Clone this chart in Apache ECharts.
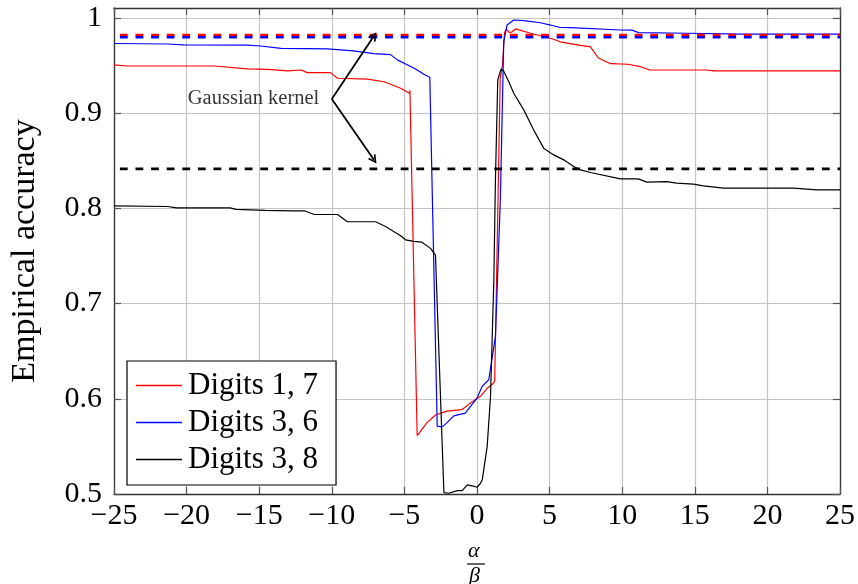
<!DOCTYPE html>
<html>
<head>
<meta charset="utf-8">
<script src="https://cdn.jsdelivr.net/npm/echarts@6/dist/echarts.min.js"></script>
<style>
  html, body { margin: 0; padding: 0; background: #fff; }
  #chart { width: 858px; height: 584px; }
</style>
</head>
<body>
<div id="chart"></div>
<script>
// Accuracy curves versus alpha/beta
const seriesNames = ['Digits 1, 7', 'Digits 3, 6', 'Digits 3, 8'];

const r17X = [-25, -24.1, -18.1, -15.8, -14.4, -13.05, -12.1, -11.7, -10.1, -9.6, -7.55, -6.4, -5.3, -4.65, -4.62, -4.12,
  -3.44, -2.86, -2.06, -1.02, -0.45, 0.24, 0.70, 1.16, 1.22, 1.6, 1.75, 1.9, 2.03, 2.25, 2.42, 2.65, 3.68, 5.06, 5.74,
  7.1, 7.8, 8.36, 9.2, 10.4, 11.24, 11.9, 15.8, 16.27, 25];
const r17Y = [0.9507, 0.9496, 0.9496, 0.9465, 0.946, 0.9444, 0.9454, 0.9426, 0.9426, 0.9367, 0.9357, 0.933, 0.9265, 0.921, 0.924, 0.5614,
  0.575, 0.583, 0.587, 0.5887, 0.5957, 0.6026, 0.611, 0.6165, 0.62, 0.937, 0.95, 0.985, 0.988, 0.9845, 0.9856, 0.9885, 0.984, 0.9787, 0.975,
  0.9712, 0.970, 0.958, 0.952, 0.9514, 0.949, 0.9454, 0.9454, 0.9444, 0.9444];

const b36X = [-25, -21.3, -20.2, -15.8, -14.9, -13.5, -10.3, -8.5, -7.1, -5.95, -5.49, -4.57, -4.23, -3.66, -3.25, -3.2, -2.74,
  -2.40, -2.06, -1.60, -0.81, 0.0, 0.35, 0.81, 1.27, 1.61, 1.84, 2.07, 2.53, 3.22, 4.37, 5.06, 5.74, 6.43, 9.88, 10.67, 11.13,
  14.45, 18.35, 25];
const b36Y = [0.9732, 0.9727, 0.9717, 0.9715, 0.9706, 0.968, 0.9675, 0.9655, 0.9625, 0.9615, 0.956, 0.949, 0.9465, 0.941, 0.9378, 0.9375, 0.5712,
  0.5705, 0.575, 0.582, 0.585, 0.6007, 0.613, 0.620, 0.6656, 0.81, 0.975, 0.9926, 0.9979, 0.9972, 0.995, 0.9926, 0.990, 0.9898, 0.9874, 0.9872, 0.9846,
  0.984, 0.983, 0.983];

const b38X = [-25, -21.3, -20.7, -17.0, -16.6, -14.6, -12.6, -11.9, -11.2, -9.6, -8.93, -6.98, -6.3, -5.26, -4.92, -4.35, -3.8, -3.2, -2.86,
  -2.28, -1.94, -1.36, -1.02, -0.67, -0.33, 0.01, 0.24, 0.36, 0.70, 0.93, 1.16, 1.27, 1.43, 1.66, 1.84, 2.19, 2.53, 3.22, 3.9,
  4.59, 5.28, 5.97, 6.66, 7.12, 7.81, 9.88, 11.1, 11.7, 13.07, 13.76, 14.9, 15.59, 16.97, 21.8, 23.4, 25];
const b38Y = [0.8027, 0.802, 0.8006, 0.8006, 0.799, 0.798, 0.7975, 0.7975, 0.7936, 0.7936, 0.786, 0.786, 0.781, 0.7712, 0.767, 0.7653, 0.7645, 0.758, 0.751,
  0.5015, 0.5008, 0.5036, 0.5036, 0.5096, 0.5085, 0.5071, 0.5113, 0.5148, 0.5498, 0.6023, 0.725, 0.83, 0.935, 0.9465, 0.944, 0.933, 0.921, 0.9035, 0.8825,
  0.8633, 0.8562, 0.851, 0.844, 0.8405, 0.8377, 0.831, 0.831, 0.8276, 0.8282, 0.8265, 0.8255, 0.8237, 0.8213, 0.8213, 0.8195, 0.8195];

// Gaussian-kernel reference accuracies (horizontal dashed levels)
const kernelLevels = [0.9822, 0.9797, 0.8415];
const kernelColors = ['#ff0000', '#0000ff', '#000000'];

// Annotation: label anchor and arrow tips
const noteAnchor = [-10, 0.915];
const noteTips = [[-7.1, 0.981], [-7.1, 0.851]];
const noteText = 'Gaussian kernel';

const xTicks = { min: -25, max: 25, step: 5 };
const yTicks = { min: 0.5, max: 1.0105, step: 0.1 };

const FONT = 'Liberation Serif';
const zip = (xs, ys) => xs.map((x, i) => [x, ys[i]]);

const axisLineStyle = { color: '#333', width: 1.3 };
const tickStyle = { color: '#555', width: 1.2 };
const minus = v => String(v).replace('-', '\u2212');

const chart = echarts.init(document.getElementById('chart'), null, { renderer: 'canvas' });

const curve = (name, xs, ys, color) => ({
  name, type: 'line', data: zip(xs, ys), symbol: 'none', smooth: false,
  lineStyle: { color, width: 1.2 }, itemStyle: { color }, z: 3, animation: false
});

const level = (v, color) => ({
  type: 'line', data: [[xTicks.min, v], [xTicks.max, v]], symbol: 'none', silent: true,
  lineStyle: { color, width: 2.6, type: [7.8, 7.8], dashOffset: 9.7 }, z: 4, animation: false
});

const chevron = 'path://M0,9 L5,0 L10,9 L8.3,9.9 L5,3.6 L1.7,9.9 Z';

chart.setOption({
  animation: false,
  grid: { left: 113, right: 18, top: 8, bottom: 90 },
  legend: {
    data: seriesNames.map(n => ({ name: n, icon: 'rect' })),
    orient: 'vertical',
    left: 127, top: 361,
    padding: [9, 18, 10, 9],
    itemWidth: 46, itemHeight: 1.3, itemGap: 6,
    backgroundColor: '#fff',
    borderColor: '#000', borderWidth: 1.2,
    textStyle: { fontFamily: FONT, fontSize: 31, color: '#000', lineHeight: 31, padding: [0, 0, 0, 1] }
  },
  xAxis: [{
    type: 'value', position: 'bottom', min: xTicks.min, max: xTicks.max, interval: xTicks.step,
    axisLine: { show: true, onZero: false, lineStyle: axisLineStyle },
    axisTick: { show: true, inside: true, length: 7, lineStyle: tickStyle },
    axisLabel: { fontFamily: FONT, fontSize: 30, color: '#000', margin: 7, formatter: minus },
    splitLine: { show: true, lineStyle: { color: '#c4c4c4', width: 1.2 } }
  }, {
    type: 'value', position: 'top', min: xTicks.min, max: xTicks.max, interval: xTicks.step,
    axisLine: { show: true, onZero: false, lineStyle: axisLineStyle },
    axisTick: { show: true, inside: true, length: 7, lineStyle: tickStyle },
    axisLabel: { show: false }, splitLine: { show: false }
  }],
  yAxis: [{
    type: 'value', position: 'left', min: yTicks.min, max: yTicks.max, interval: yTicks.step,
    name: 'Empirical accuracy', nameLocation: 'middle', nameGap: 72,
    nameTextStyle: { fontFamily: FONT, fontSize: 34, color: '#000' },
    axisLine: { show: true, onZero: false, lineStyle: axisLineStyle },
    axisTick: { show: true, inside: true, length: 7, lineStyle: tickStyle },
    axisLabel: {
      fontFamily: FONT, fontSize: 30, color: '#000', margin: 12, showMaxLabel: false,
      formatter: v => (Math.abs(v * 10 - Math.round(v * 10)) < 1e-6 ? String(Math.round(v * 10) / 10) : '')
    },
    splitLine: { show: true, lineStyle: { color: '#c4c4c4', width: 1.2 } }
  }, {
    type: 'value', position: 'right', min: yTicks.min, max: yTicks.max, interval: yTicks.step,
    axisLine: { show: true, onZero: false, lineStyle: axisLineStyle },
    axisTick: { show: true, inside: true, length: 7, lineStyle: tickStyle },
    axisLabel: { show: false }, splitLine: { show: false }
  }],
  series: [
    curve(seriesNames[0], r17X, r17Y, '#ff0000'),
    curve(seriesNames[1], b36X, b36Y, '#0000ff'),
    curve(seriesNames[2], b38X, b38Y, '#000000'),
    level(kernelLevels[0], kernelColors[0]),
    level(kernelLevels[1], kernelColors[1]),
    level(kernelLevels[2], kernelColors[2]),
    {
      type: 'lines', coordinateSystem: 'cartesian2d', silent: true, z: 5,
      symbol: ['none', chevron], symbolSize: [11, 9],
      lineStyle: { color: '#000', width: 1.8, opacity: 1, curveness: 0 },
      data: noteTips.map(t => ({ coords: [noteAnchor, t] }))
    },
    {
      type: 'scatter', silent: true, z: 5,
      data: [noteAnchor], symbolSize: 1, itemStyle: { color: 'rgba(0,0,0,0)' },
      label: {
        show: true, position: 'left', distance: 12, formatter: noteText,
        fontFamily: FONT, fontSize: 20.5, color: '#000'
      }
    }
  ],
  graphic: [
    { type: 'text', left: 468, top: 540, style: { text: '\u03b1', font: 'italic 22px "Liberation Serif"', fill: '#000' } },
    { type: 'line', shape: { x1: 467, y1: 564, x2: 485, y2: 564 }, style: { stroke: '#000', lineWidth: 1.2 } },
    { type: 'text', left: 469, top: 565, style: { text: '\u03b2', font: 'italic 22px "Liberation Serif"', fill: '#000' } }
  ]
});
</script>
</body>
</html>
